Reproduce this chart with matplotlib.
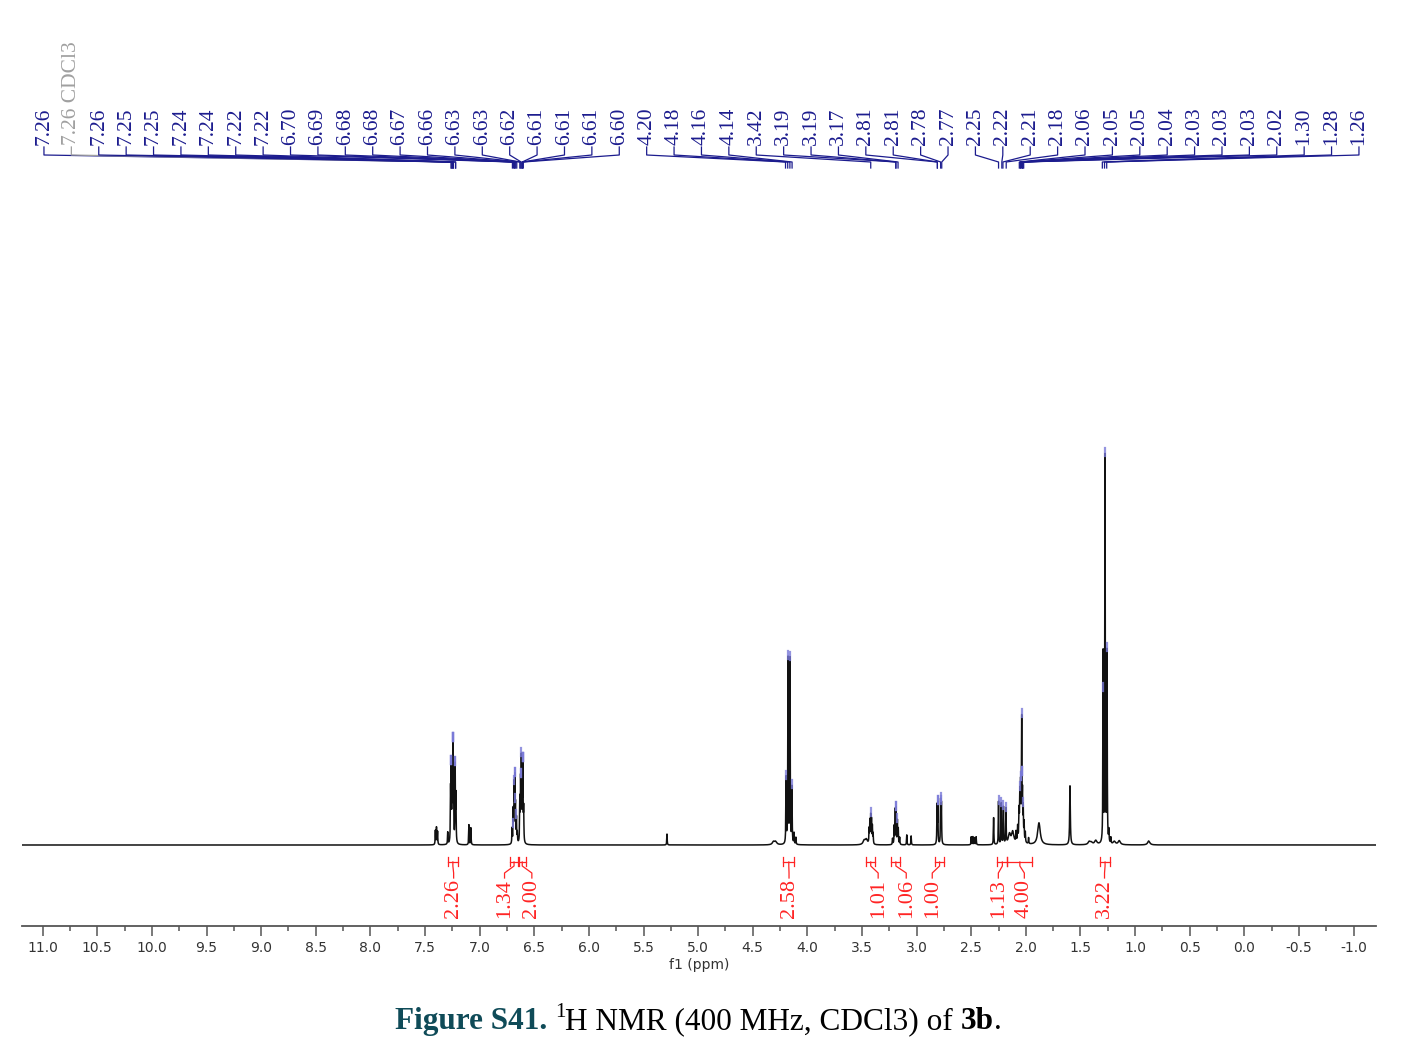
import numpy as np
import matplotlib
matplotlib.use("Agg")
import matplotlib.pyplot as plt
from matplotlib.ticker import MultipleLocator, FuncFormatter

# peak list of the spectrum: shift (ppm), height, half width (ppm)
peak_ppm = [7.405, 7.395, 7.385, 7.292, 7.266, 7.260, 7.252, 7.245, 7.238, 7.224, 7.217,
            7.098, 7.080,
            6.703, 6.692, 6.684, 6.678, 6.672, 6.663, 6.655,
            6.632, 6.625, 6.618, 6.610, 6.604, 6.597,
            5.285, 4.31, 4.29,
            4.195, 4.177, 4.159, 4.141, 4.122, 4.105,
            3.48, 3.46, 3.435, 3.428, 3.420, 3.413, 3.405, 3.398,
            3.220, 3.205, 3.195, 3.188, 3.176, 3.168, 3.155, 3.090, 3.050,
            2.813, 2.806, 2.780, 2.773,
            2.500, 2.485, 2.470, 2.455,
            2.295, 2.250, 2.225, 2.205, 2.182, 2.15, 2.12,
            2.090, 2.075, 2.062, 2.055, 2.048, 2.038, 2.031, 2.024, 2.016, 2.005, 2.05,
            1.975, 1.880, 1.596, 1.42, 1.40, 1.36,
            1.293, 1.275, 1.257, 1.240, 1.222, 1.19, 1.145, 0.875]
peak_height = [14, 17, 13, 12, 50, 72, 52, 95, 44, 76, 46,
               20, 17,
               15, 32, 54, 60, 34, 24, 10,
               42, 58, 80, 46, 76, 32,
               11, 3, 3,
               66, 185, 185, 56, 11, 7,
               4, 5, 14, 22, 27, 23, 17, 10,
               6, 18, 33, 34, 23, 15, 7, 10, 9,
               38, 40, 43, 40,
               8, 8, 7, 8,
               27, 43, 41, 37, 35, 10, 12,
               10, 14, 24, 34, 40, 114, 40, 30, 18, 10, 18,
               6, 22, 59, 3, 2, 4,
               190, 386, 190, 12, 6, 3, 4, 4]
peak_width = [0.0022] * len(peak_height)
for i, p in enumerate(peak_ppm):
    if p in (4.31, 4.29, 3.48, 3.46, 2.05, 1.42, 1.40, 1.36, 1.19, 1.145, 0.875, 2.15, 2.12):
        peak_width[i] = 0.012
    if p == 1.880:
        peak_width[i] = 0.014
    if p == 1.596:
        peak_width[i] = 0.0035

# peak picking labels (top)
pick_labels = ["7.26", "7.26 CDCl3", "7.26", "7.25", "7.25", "7.24", "7.24", "7.22", "7.22",
               "6.70", "6.69", "6.68", "6.68", "6.67", "6.66", "6.63", "6.63", "6.62", "6.61",
               "6.61", "6.61", "6.60",
               "4.20", "4.18", "4.16", "4.14", "3.42", "3.19", "3.19", "3.17", "2.81", "2.81",
               "2.78", "2.77",
               "2.25", "2.22", "2.21", "2.18", "2.06", "2.05", "2.05", "2.04", "2.03", "2.03",
               "2.03", "2.02", "1.30", "1.28", "1.26"]

# integrals: value, start, end (ppm)
int_values = ["2.26", "1.34", "2.00", "2.58", "1.01", "1.06", "1.00", "1.13", "4.00", "3.22"]
int_start = [7.29, 6.72, 6.64, 4.22, 3.46, 3.23, 2.83, 2.26, 2.17, 1.32]
int_end = [7.20, 6.65, 6.58, 4.12, 3.38, 3.15, 2.75, 2.17, 1.94, 1.23]
int_label_at = [7.238, 6.772, 6.522, 4.168, 3.352, 3.095, 2.857, 2.252, 2.014, 1.280]

navy = "#1c1c8e"
red = "#ff2424"

x = np.linspace(-1.25, 11.25, 40000)
y = np.zeros_like(x)
for p, h, w in zip(peak_ppm, peak_height, peak_width):
    y += h * w ** 2 / ((x - p) ** 2 + w ** 2)

fig = plt.figure(figsize=(14.02, 10.53), dpi=100)
ax = fig.add_axes([22 / 1402, 127 / 1053, 1354 / 1402, 906 / 1053])
ax.set_xlim(11.189, -1.205)
ax.set_ylim(-81, 825)

ax.plot(x, y, color="#111111", lw=1.1)

# markers on picked peaks
for lab in pick_labels:
    v = float(lab.split()[0])
    m = (x > v - 0.006) & (x < v + 0.006)
    i = np.argmax(y[m])
    xp, yp = x[m][i], y[m][i]
    ax.plot([xp, xp], [yp - 3, yp + 5], color="#7a7ad8", lw=1.6, alpha=0.8)

# top peak labels with leader lines
lab_x = np.linspace(10.988, -1.049, len(pick_labels))
for lx, lab in zip(lab_x, pick_labels):
    v = float(lab.split()[0])
    col = "#a0a0a0" if "CDCl3" in lab else navy
    ax.text(lx, 700, lab, rotation=90, ha="center", va="bottom", color=col,
            fontsize=15.5, family="Liberation Serif")
    ax.plot([lx, lx, v, v], [698, 690, 683, 677], color=col, lw=0.9)

# integrals
for val, a, b, lx in zip(int_values, int_start, int_end, int_label_at):
    mid = (a + b) / 2
    ax.text(lx, -73, val, rotation=90, ha="center", va="bottom", color=red,
            fontsize=16, family="Liberation Serif")
    ax.plot([lx, lx, mid, mid], [-33, -28, -21, -17], color=red, lw=0.9)
    ax.plot([a, b], [-17, -17], color=red, lw=0.9)
    ax.plot([a, a], [-12, -21], color=red, lw=0.9)
    ax.plot([b, b], [-12, -21], color=red, lw=0.9)

for s in ["left", "right", "top"]:
    ax.spines[s].set_visible(False)
ax.spines["bottom"].set_color("#555555")
ax.spines["bottom"].set_linewidth(1.3)
ax.set_yticks([])
ax.xaxis.set_major_locator(MultipleLocator(0.5))
ax.xaxis.set_minor_locator(MultipleLocator(0.25))
ax.xaxis.set_major_formatter(FuncFormatter(lambda v, p: f"{round(v, 1) + 0.0:.1f}"))
ax.tick_params(axis="x", which="major", length=7, width=1.1, color="#555555",
               labelsize=10, labelcolor="#333333", pad=4)
ax.tick_params(axis="x", which="minor", length=3.5, width=1.1, color="#555555")
ax.set_xlabel("f1 (ppm)", fontsize=10, color="#333333", labelpad=2)

# caption built from pieces
renderer = fig.canvas.get_renderer()
fs = 22.5
base_y = (1053 - 1029) / 1053
pieces = [("Figure S41.", "bold", "#0f4b58", fs, 0),
          (" ", "normal", "black", fs, 0),
          ("1", "normal", "black", 15, 12),
          ("H NMR (400 MHz, CDCl3) of", "normal", "black", fs, 0),
          (" ", "normal", "black", fs, 0),
          ("3b", "bold", "black", fs, 0),
          (".", "normal", "black", fs, 0)]


def width_of(s, weight, size):
    if s == " ":
        t1 = fig.text(0, 0, "x x", fontsize=size, weight=weight, family="Liberation Serif")
        t2 = fig.text(0, 0, "xx", fontsize=size, weight=weight, family="Liberation Serif")
        w = t1.get_window_extent(renderer).width - t2.get_window_extent(renderer).width
        t1.remove()
        t2.remove()
        return w
    t = fig.text(0, 0, s, fontsize=size, weight=weight, family="Liberation Serif")
    w = t.get_window_extent(renderer).width
    t.remove()
    return w


widths = [width_of(s, wt, sz) for s, wt, c, sz, r in pieces]
cur = 698 - sum(widths) / 2
for (s, wt, c, sz, rise), w in zip(pieces, widths):
    if s != " ":
        fig.text(cur / 1402, base_y + rise / 1053, s, fontsize=sz, weight=wt, color=c,
                 family="Liberation Serif", ha="left", va="baseline")
    cur += w

fig.savefig("out.png", dpi=100)
